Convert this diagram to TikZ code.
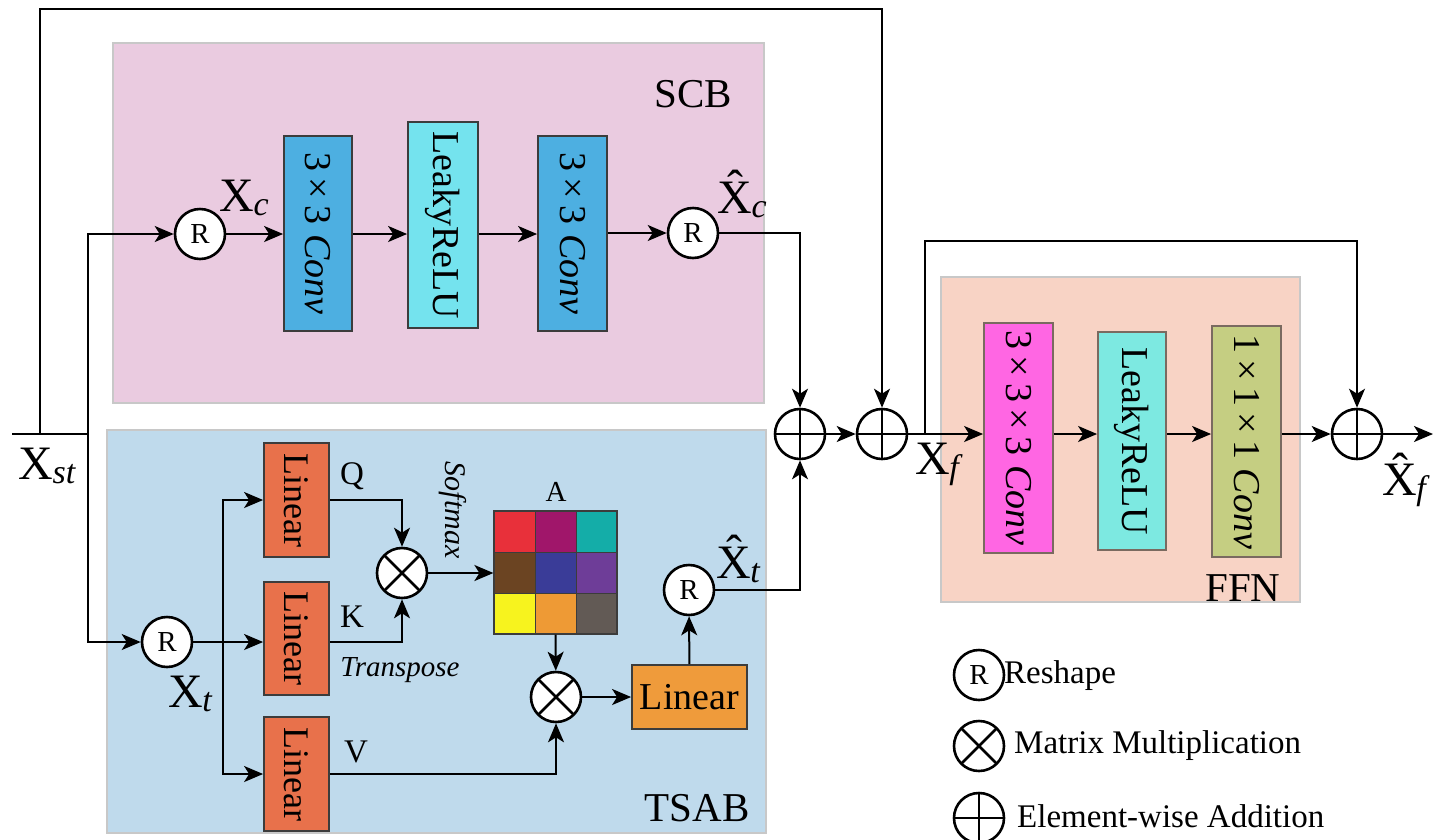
\documentclass[tikz,border=0pt]{standalone}
\usepackage{fontspec}
\setmainfont{Liberation Serif}
\usetikzlibrary{arrows.meta,calc}
\definecolor{scbfill}{HTML}{EACBE0}
\definecolor{tsabfill}{HTML}{BFDAEC}
\definecolor{ffnfill}{HTML}{F8D3C5}
\definecolor{contborder}{HTML}{C8C8C8}
\definecolor{convblue}{HTML}{4DAFE1}
\definecolor{leakycyan}{HTML}{74E3EE}
\definecolor{linred}{HTML}{E8714B}
\definecolor{linorange}{HTML}{EF9B3B}
\definecolor{convmag}{HTML}{FF66E3}
\definecolor{leakytwo}{HTML}{7DE9E1}
\definecolor{convolive}{HTML}{C5CE82}
\definecolor{blkborder}{HTML}{3C3C3C}
\definecolor{ffnborder}{HTML}{7A6A60}
\definecolor{cA}{HTML}{E8303A}
\definecolor{cB}{HTML}{A0166A}
\definecolor{cC}{HTML}{14ADA8}
\definecolor{cD}{HTML}{6B4422}
\definecolor{cE}{HTML}{3A3C98}
\definecolor{cF}{HTML}{6E3D98}
\definecolor{cG}{HTML}{F7F31E}
\definecolor{cH}{HTML}{EE9A35}
\definecolor{cI}{HTML}{625A55}
\newcommand{\fs}[1]{\fontsize{#1}{#1}\selectfont}
\newcommand{\Xsub}[1]{X\kern-0.5pt\raisebox{-4pt}{\fs{34}\itshape #1}}
\newcommand{\Xhsub}[1]{\^{X}\kern-0.5pt\raisebox{-4pt}{\fs{34}\itshape #1}}
\begin{document}
\begin{tikzpicture}[x=1pt,y=-1pt,
  myarrow/.style={-{Stealth[length=19pt,width=16pt,inset=5pt]},line width=2pt},
  myline/.style={line width=2pt},
  container/.style={draw=contborder,line width=2pt,inner sep=0pt},
  blk/.style={draw=blkborder,line width=1.8pt,inner sep=0pt},
  ffnblk/.style={draw=ffnborder,line width=1.8pt,inner sep=0pt},
  rnode/.style={circle,draw,fill=white,line width=2.6pt,minimum size=50pt,inner sep=0pt,font=\fs{29}},
  plusnode/.style={circle,draw,fill=white,line width=2.6pt,minimum size=50pt,inner sep=0pt,
    path picture={\draw[line width=2.6pt] (path picture bounding box.north) -- (path picture bounding box.south)
      (path picture bounding box.west) -- (path picture bounding box.east);}},
  timesnode/.style={circle,draw,fill=white,line width=2.6pt,minimum size=50pt,inner sep=0pt,
    path picture={\draw[line width=2.6pt] (path picture bounding box.north west) -- (path picture bounding box.south east)
      (path picture bounding box.south west) -- (path picture bounding box.north east);}},
  cell/.style={draw=blkborder,line width=1pt,minimum size=41pt,inner sep=0pt},
  boxtext/.style={rotate=-90,font=\fs{38}},
  lbl/.style={font=\fs{48},inner sep=0pt},
  small/.style={font=\fs{33},inner sep=0pt},
  legtext/.style={font=\fs{33},inner sep=0pt,anchor=west},
  title/.style={font=\fs{41},inner sep=0pt}
]
\useasboundingbox[fill=white] (0,0) rectangle (1435,839);

% containers
\node[container,fill=scbfill,minimum width=651pt,minimum height=360pt] (scb) at (438.5,223) {};
\node[container,fill=tsabfill,minimum width=659pt,minimum height=403pt] (tsab) at (436.5,631.5) {};
\node[container,fill=ffnfill,minimum width=359pt,minimum height=325pt] (ffn) at (1120.5,439.5) {};
\node[title] (scbl) at (693,94) {SCB};
\node[title] (tsabl) at (697,808) {TSAB};
\node[title] (ffnl) at (1243,588) {FFN};

% SCB
\node[rnode] (c1) at (200,234) {R};
\node[blk,fill=convblue,minimum width=68pt,minimum height=195pt] (conv1) at (318,233.5) {};
\node[boxtext] (conv1t) at (conv1) {3\,×\,3 \textit{Conv}};
\node[blk,fill=leakycyan,minimum width=70pt,minimum height=206pt] (leaky1) at (443,225) {};
\node[boxtext] (leaky1t) at (leaky1) {LeakyReLU};
\node[blk,fill=convblue,minimum width=69pt,minimum height=195pt] (conv2) at (572.5,233.5) {};
\node[boxtext] (conv2t) at (conv2) {3\,×\,3 \textit{Conv}};
\node[rnode] (c2) at (693,233) {R};
\node[lbl] (xcl) at (244,198) {\Xsub{c}};
\node[lbl] (xhcl) at (742,194) {\Xhsub{c}};

% sums
\node[plusnode] (p1) at (800,434) {};
\node[plusnode] (p2) at (882,434) {};
\node[plusnode] (p3) at (1357,434) {};

% input
\coordinate (in) at (12,434);
\coordinate (br) at (88,434);
\coordinate (sk) at (40,434);
\coordinate (topL) at (40,9);
\node[lbl] (xstl) at (47,466) {\Xsub{st}};
\draw[myline] (in) -- (br);
\draw[myarrow] (br) |- (c1);
\draw[myarrow] (sk) -- (topL) -| (p2);
\draw[myarrow] (c1) -- (c1 -| conv1.west);
\draw[myarrow] (conv1.east |- c1) -- (leaky1.west |- c1);
\draw[myarrow] (leaky1.east |- c1) -- (conv2.west |- c1);
\draw[myarrow] (conv2.east |- c2) -- (c2);
\draw[myarrow] (c2) -| (p1);
\draw[myarrow] (p1) -- (p2);

% TSAB
\node[rnode] (c3) at (167,642) {R};
\coordinate (j) at (223,642);
\node[lbl] (xtl) at (190,694) {\Xsub{t}};
\node[blk,fill=linred,minimum width=65pt,minimum height=114pt] (L1) at (296.5,500) {};
\node[boxtext,font=\fs{36}] (L1t) at (L1) {Linear};
\node[blk,fill=linred,minimum width=65pt,minimum height=113pt] (L2) at (296.5,638.5) {};
\node[boxtext,font=\fs{36}] (L2t) at (L2) {Linear};
\node[blk,fill=linred,minimum width=65pt,minimum height=114pt] (L3) at (296.5,774) {};
\node[boxtext,font=\fs{36}] (L3t) at (L3) {Linear};
\draw[myarrow] (br) |- (c3);
\draw[myline] (c3) -- (j);
\draw[myarrow] (j) -- (j -| L2.west);
\draw[myarrow] (j) |- (L1.west);
\draw[myarrow] (j) |- (L3.west);
\node[small] (ql) at (352,476) {Q};
\node[small] (kl) at (352,617) {K};
\node[small] (vl) at (356,752) {V};
\node[small,font=\fs{29}\itshape] (trl) at (400,670) {Transpose};
\node[small,font=\fs{30}\itshape,rotate=-90] (sml) at (453,510) {Softmax};
\node[timesnode] (m1) at (402,573) {};
\draw[myarrow] (L1.east) -| (m1);
\draw[myarrow] (L2.east |- j) -| (m1);

% matrix A
\node[cell,fill=cA] (a11) at (514.5,531.5) {};
\node[cell,fill=cB] (a12) at (555.5,531.5) {};
\node[cell,fill=cC] (a13) at (596.5,531.5) {};
\node[cell,fill=cD] (a21) at (514.5,572.5) {};
\node[cell,fill=cE] (a22) at (555.5,572.5) {};
\node[cell,fill=cF] (a23) at (596.5,572.5) {};
\node[cell,fill=cG] (a31) at (514.5,613.5) {};
\node[cell,fill=cH] (a32) at (555.5,613.5) {};
\node[cell,fill=cI] (a33) at (596.5,613.5) {};
\node[draw=blkborder,line width=1.2pt,minimum size=123pt,inner sep=0pt] (A) at (555.5,572.5) {};
\node[small,font=\fs{29}] (al) at (556,492) {A};
\draw[myarrow] (m1) -- (m1 -| A.west);

\node[timesnode] (m2) at (556,697) {};
\draw[myarrow] (A.south) -- (m2);
\draw[myarrow] (L3.east) -| (m2);
\node[blk,fill=linorange,minimum width=115pt,minimum height=64pt,font=\fs{38}] (L4) at (689.5,697) {Linear};
\draw[myarrow] (m2) -- (L4);
\node[rnode] (c4) at (689,590) {R};
\draw[myarrow] (L4) -- (c4);
\draw[myarrow] (c4) -| (p1);
\node[lbl] (xhtl) at (738,559) {\Xhsub{t}};

% FFN
\node[ffnblk,fill=convmag,minimum width=69pt,minimum height=230pt] (conv3) at (1018.5,438) {};
\node[boxtext] (conv3t) at (conv3) {3\,×\,3\,×\,3 \textit{Conv}};
\node[ffnblk,fill=leakytwo,minimum width=68pt,minimum height=218pt] (leaky2) at (1132,441) {};
\node[boxtext] (leaky2t) at (leaky2) {LeakyReLU};
\node[ffnblk,fill=convolive,minimum width=69pt,minimum height=231pt] (conv4) at (1246.5,441.5) {};
\node[boxtext] (conv4t) at (conv4) {1\,×\,1\,×\,1 \textit{Conv}};
\draw[myarrow] (p2) -- (p2 -| conv3.west);
\draw[myarrow] (conv3.east |- p2) -- (leaky2.west |- p2);
\draw[myarrow] (leaky2.east |- p2) -- (conv4.west |- p2);
\draw[myarrow] (conv4.east |- p3) -- (p3);
\coordinate (fsk) at (925,434);
\coordinate (ftop) at (925,241);
\draw[myarrow] (fsk) -- (ftop) -| (p3);
\coordinate (out) at (1433,434);
\draw[myarrow] (p3) -- (out);
\node[lbl] (xfl) at (937,464) {\Xsub{f}};
\node[lbl] (xhfl) at (1404,480) {\Xhsub{f}};

% legend
\node[rnode] (lg1) at (979,675) {R};
\node[legtext] (lg1t) at (1004,676) {Reshape};
\node[timesnode] (lg2) at (979,746) {};
\node[legtext] (lg2t) at (1014,746) {Matrix Multiplication};
\node[plusnode] (lg3) at (979,818) {};
\node[legtext] (lg3t) at (1017,816) {Element-wise Addition};
\end{tikzpicture}
\end{document}
